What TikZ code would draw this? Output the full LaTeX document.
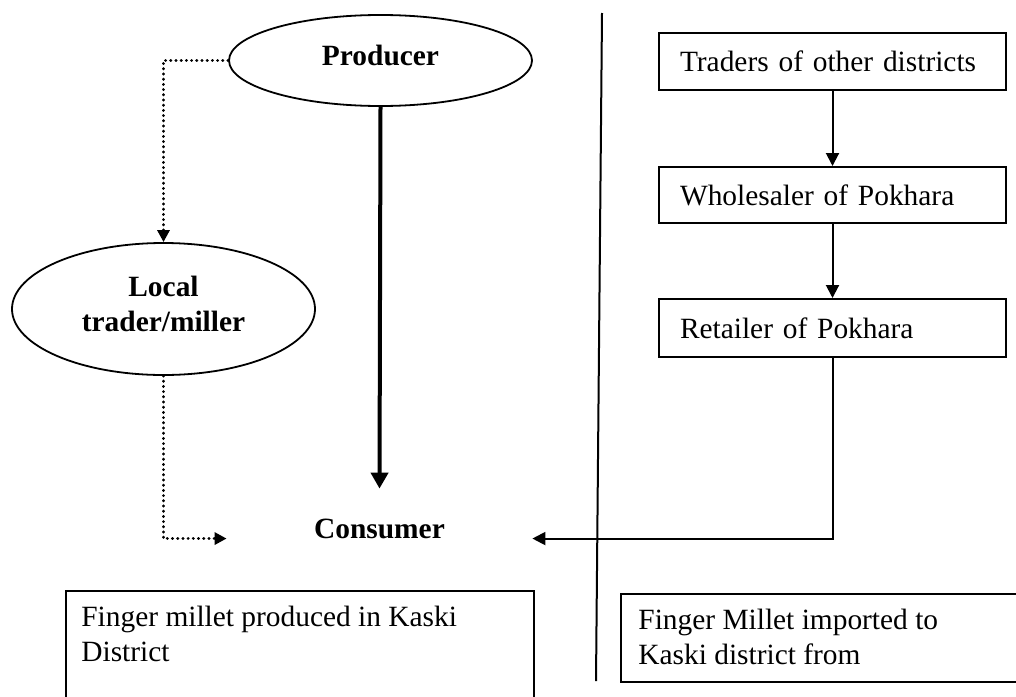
\documentclass[tikz,border=0pt]{standalone}
\usepackage{fontspec}
\setmainfont{Liberation Serif}
\usetikzlibrary{shapes.geometric,arrows.meta}
\tikzset{
  txt/.style={font=\fontsize{14.7pt}{17.5pt}\selectfont},
  oval/.style={draw, ellipse, line width=0.9pt, inner sep=0pt, txt, font=\fontsize{14.7pt}{17.5pt}\selectfont\bfseries, align=center},
  rbox/.style={draw, rectangle, line width=1pt, txt, text width=152.5pt, inner xsep=10.5pt, inner ysep=0pt, align=left},
  panel/.style={draw, rectangle, line width=1pt, inner sep=0pt},
  ptext/.style={txt, anchor=north west, inner sep=0pt, align=left},
  flow/.style={line width=1pt, -{Triangle[length=6.5pt,width=6.5pt]}},
  heavy/.style={line width=2pt, -{Triangle[length=8pt,width=8.5pt]}},
  dots/.style={line width=1.5pt, line cap=round, dash pattern=on 0.1pt off 2.5pt, -{Triangle[length=6pt,width=6pt]}},
}
\begin{document}
\begin{tikzpicture}[x=0.5pt, y=-0.5pt]
\useasboundingbox (0,0) rectangle (1016,696);
\clip (0,0) rectangle (1016,696);

% left side
\node[oval, minimum width=151.5pt, minimum height=45.5pt, text depth=5.5pt] (prod) at (380.5,60.5) {Producer};
\node[oval, minimum width=151.5pt, minimum height=66pt, text depth=5pt] (lt) at (163.5,309) {Local\\trader/miller};
\node[txt, font=\fontsize{14.7pt}{17.5pt}\selectfont\bfseries, minimum width=152.5pt, minimum height=40pt, inner sep=0pt] (cons) at (379.5,529) {Consumer};

\draw[heavy] (prod.south) -- (cons.north);
\draw[dots] (prod.west) -| (lt.north);
\draw[dots] (lt.south) |- (cons.base west);

% divider
\coordinate (dtop) at (602,13);
\coordinate (dbot) at (596,681);
\draw[line width=1pt] (dtop) -- (dbot);

% right side
\node[rbox, minimum height=28.5pt] (tr) at (832.5,61.5) {Traders of other districts};
\node[rbox, minimum height=28pt] (wh) at (832.5,195) {Wholesaler of Pokhara};
\node[rbox, minimum height=29pt] (re) at (832.5,328) {Retailer of Pokhara};

\draw[flow] (tr.south) -- (wh.north);
\draw[flow] (wh.south) -- (re.north);
\draw[flow] (re.south) |- (cons.base east);

% bottom panels
\node[panel, anchor=north west, minimum width=234pt, minimum height=70pt] (bl) at (65,590) {};
\node[ptext] (blt) at ([xshift=8pt,yshift=-8pt]bl.north west) {Finger millet produced in Kaski\\District};
\node[panel, anchor=north west, minimum width=220pt, minimum height=44pt] (br) at (620,593) {};
\node[ptext] (brt) at ([xshift=9pt,yshift=-8pt]br.north west) {Finger Millet imported to\\Kaski district from};
\end{tikzpicture}
\end{document}
